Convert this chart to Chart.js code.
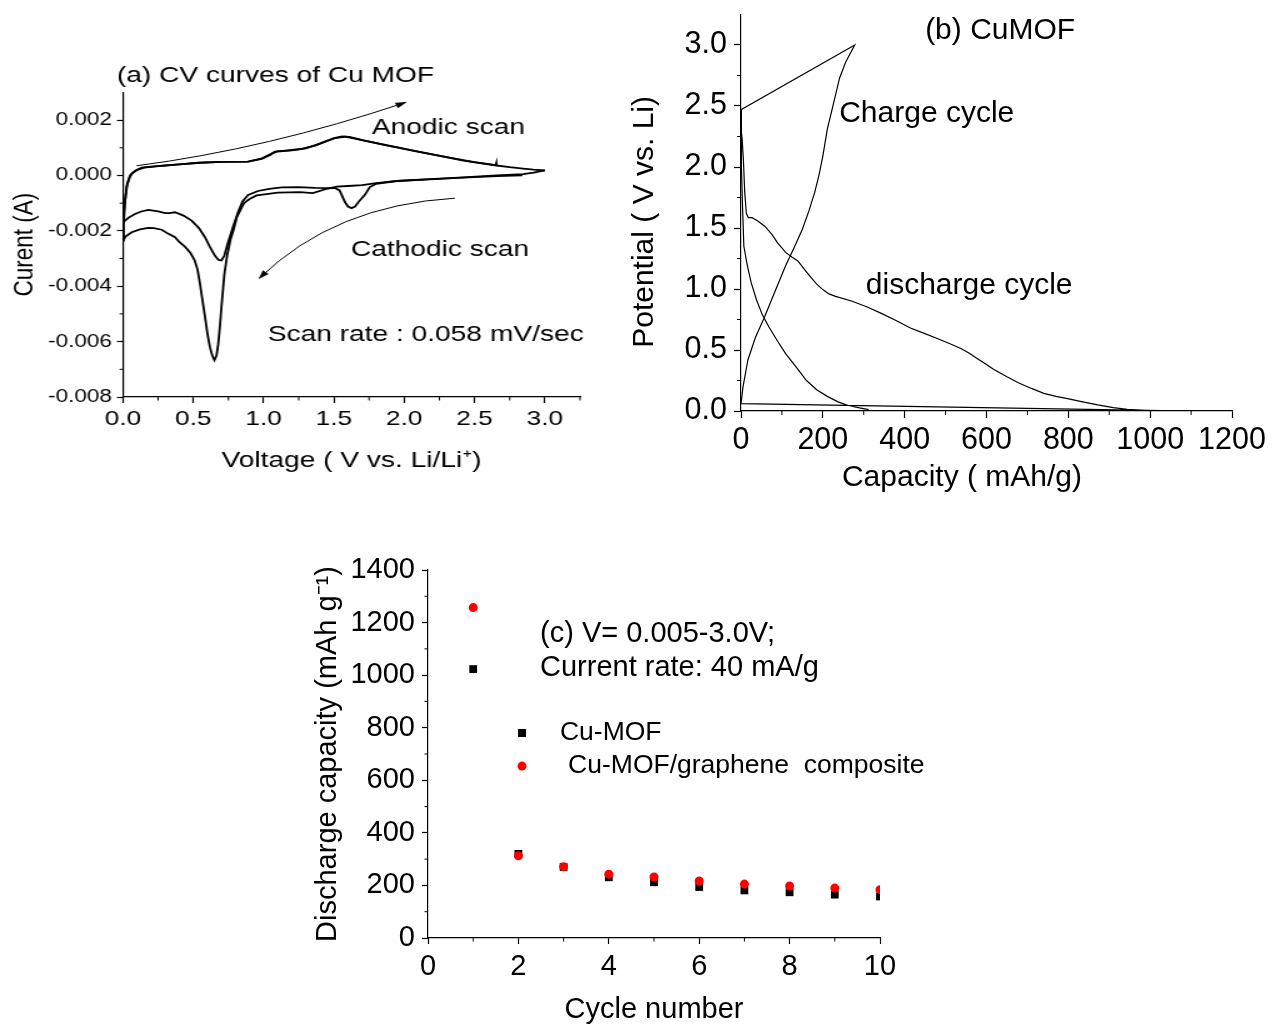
<!DOCTYPE html>
<html>
<head>
<meta charset="utf-8">
<title>Cu MOF electrochemistry</title>
<script src="https://cdn.jsdelivr.net/npm/chart.js@4.4.1/dist/chart.umd.min.js"></script>
<style>
html, body { margin: 0; padding: 0; background: #fff; }
body { width: 1272px; height: 1026px; position: relative; overflow: hidden; }
canvas { position: absolute; }
#cv { left: 0; top: 0; transform: scaleX(1.25); transform-origin: 0 0; }
#gcd { left: 620px; top: 0; }
#cyc { left: 280px; top: 540px; }
</style>
</head>
<body>
<canvas id="cv" width="480" height="500"></canvas>
<canvas id="gcd" width="652" height="520"></canvas>
<canvas id="cyc" width="700" height="486"></canvas>
<script>
// ---- (a) cyclic voltammetry, V vs Li/Li+ and current in A ----
const scan1V = [2.84, 2.66, 2.42, 2.18, 1.95, 1.80, 1.755, 1.72, 1.684, 1.65, 1.625, 1.60, 1.578, 1.555, 1.54, 1.507,
  1.45, 1.365, 1.25, 1.128, 1.04, 0.96, 0.89, 0.85, 0.82, 0.78, 0.748, 0.72, 0.70, 0.68, 0.654, 0.62, 0.583, 0.54,
  0.488, 0.43, 0.37, 0.33, 0.30, 0.25, 0.18, 0.13, 0.085, 0.04, 0.0,
  0.01, 0.026, 0.045, 0.062, 0.09, 0.133, 0.2, 0.30, 0.42, 0.535, 0.7, 0.89, 0.986, 1.05, 1.08, 1.12, 1.2, 1.27,
  1.365, 1.45, 1.507, 1.56, 1.61, 1.71, 1.82, 1.945, 2.06, 2.18, 2.30, 2.42, 2.54, 2.656, 2.75, 2.845, 2.92, 3.0];
const scan1I = [0.0, -0.00002, -0.00008, -0.00014, -0.0002, -0.0003, -0.00042, -0.0007, -0.0009, -0.00112, -0.00118,
  -0.00112, -0.00096, -0.0007, -0.00054, -0.00045,
  -0.00046, -0.00045, -0.00042, -0.00043, -0.00048, -0.00056, -0.0007, -0.00094, -0.0013, -0.0019, -0.0024, -0.0029,
  -0.00307, -0.00305, -0.0029, -0.0026, -0.00223, -0.0019,
  -0.00163, -0.00145, -0.00133, -0.00136, -0.00136, -0.0013, -0.00124, -0.0013, -0.00139, -0.00152, -0.00169,
  -0.0011, -0.0004, -0.0001, 0.00006, 0.00018, 0.00028, 0.00032, 0.00036, 0.00041, 0.00046, 0.00049, 0.0005, 0.0006,
  0.00075, 0.00086, 0.00087, 0.00092, 0.00096,
  0.00108, 0.00125, 0.00136, 0.00141, 0.00139, 0.00127, 0.00115, 0.00102, 0.0009, 0.00078, 0.00066, 0.00054, 0.00045,
  0.00036, 0.0003, 0.00025, 0.00021, 0.00018];

const scan2V = [3.0, 2.92, 2.845, 2.656, 2.42, 2.18, 1.945, 1.80, 1.70, 1.60, 1.52, 1.45, 1.35, 1.26, 1.1, 1.02,
  0.95, 0.90, 0.86, 0.83, 0.81, 0.784, 0.765, 0.74, 0.72, 0.70, 0.69, 0.677, 0.665, 0.65, 0.635, 0.618, 0.60, 0.583,
  0.565, 0.547, 0.53, 0.51, 0.48, 0.44, 0.40, 0.37, 0.32, 0.275, 0.22, 0.18, 0.12, 0.062, 0.02, 0.0,
  0.005, 0.015, 0.03, 0.05, 0.07, 0.1, 0.15, 0.25, 0.4, 0.55, 0.7, 0.89, 0.99, 1.06, 1.10, 1.2, 1.3, 1.4, 1.5, 1.58,
  1.7, 1.9, 2.1, 2.3, 2.5, 2.65, 2.655, 2.656];
const scan2I = [0.00018, 0.0001, 0.00005, 0.0, -0.00007, -0.00013, -0.0002, -0.00028, -0.00035, -0.00038, -0.0004,
  -0.00048, -0.00064, -0.0006, -0.00062, -0.00067,
  -0.00072, -0.00085, -0.001, -0.0013, -0.0015, -0.002, -0.0023, -0.0029, -0.0036, -0.00476, -0.0054, -0.0061,
  -0.0065, -0.00667, -0.0065, -0.0062, -0.0057, -0.0051,
  -0.0045, -0.0039, -0.0034, -0.00307, -0.0028, -0.00257, -0.0024, -0.00223, -0.0021, -0.00196, -0.0019, -0.00189,
  -0.00195, -0.00205, -0.0022, -0.00235,
  -0.0017, -0.0009, -0.0003, 0.0, 0.0001, 0.0002, 0.00028, 0.00034, 0.0004, 0.00046, 0.00049, 0.0005, 0.00062, 0.0008,
  0.00088, 0.00091, 0.00098, 0.00115, 0.00134, 0.0014,
  0.00128, 0.00106, 0.00086, 0.00066, 0.00048, 0.00037, 0.00045, 0.00036];

const cvVoltTicks = [0, 0.5, 1.0, 1.5, 2.0, 2.5, 3.0];
const cvVoltLabels = ['0.0', '0.5', '1.0', '1.5', '2.0', '2.5', '3.0'];
const cvVoltMinor = [0.25, 0.75, 1.25, 1.75, 2.25, 2.75, 3.25];
const cvCurrTicks = [-0.008, -0.006, -0.004, -0.002, 0, 0.002];
const cvCurrLabels = ['-0.008', '-0.006', '-0.004', '-0.002', '0.000', '0.002'];
const cvCurrMinor = [-0.007, -0.005, -0.003, -0.001, 0.001];

// ---- (b) galvanostatic discharge / charge trace, capacity in mAh/g, potential in V ----
const gcdCapacity = [0, 3, 6, 9, 13, 18, 27, 40, 58, 75, 89, 109, 125, 139, 155, 170, 185, 200, 215, 231, 272, 310,
  343, 380, 414, 445, 475, 505, 536, 557, 577, 598, 618, 650, 679, 710, 740, 770, 801, 835, 872, 910, 944, 990, 1030,
  0, 5, 17, 35, 58, 83, 109, 130, 150, 166, 180, 191, 200, 211, 226, 241, 256, 267, 278,
  0, 0, 2, 4, 7, 15, 25, 38, 52, 68, 88, 109, 135, 160, 185, 211, 237, 262, 290, 312];
const gcdPotential = [2.32, 2.22, 2.05, 1.8, 1.62, 1.585, 1.585, 1.56, 1.515, 1.45, 1.38, 1.30, 1.26, 1.23, 1.16,
  1.10, 1.04, 0.995, 0.96, 0.94, 0.90, 0.85,
  0.80, 0.74, 0.68, 0.64, 0.60, 0.56, 0.515, 0.475, 0.43, 0.385, 0.34, 0.28, 0.23, 0.185, 0.145, 0.12, 0.10, 0.075,
  0.05, 0.028, 0.014, 0.006, 0.003,
  0.06, 0.2, 0.42, 0.6, 0.775, 0.98, 1.19, 1.34, 1.49, 1.64, 1.79, 1.94, 2.09, 2.31, 2.52, 2.73, 2.86, 2.93, 3.0,
  2.47, 2.3, 2.0, 1.65, 1.35, 1.2, 1.05, 0.91, 0.79, 0.69, 0.58, 0.47, 0.36, 0.25, 0.175, 0.12, 0.075, 0.045, 0.025,
  0.012];

const gcdCapTicks = [0, 200, 400, 600, 800, 1000, 1200];
const gcdCapMinor = [100, 300, 500, 700, 900, 1100];
const gcdPotTicks = [0, 0.5, 1.0, 1.5, 2.0, 2.5, 3.0];
const gcdPotLabels = ['0.0', '0.5', '1.0', '1.5', '2.0', '2.5', '3.0'];
const gcdPotMinor = [0.25, 0.75, 1.25, 1.75, 2.25, 2.75];

// ---- (c) discharge capacity per cycle, mAh/g ----
const cycles = [1, 2, 3, 4, 5, 6, 7, 8, 9, 10];
const cuMof = [1023, 320, 270, 231, 212, 194, 181, 174, 165, 158];
const cuMofGraphene = [1257, 313, 271, 243, 232, 217, 205, 198, 190, 184];

const cycTicks = [0, 2, 4, 6, 8, 10];
const cycMinor = [1, 3, 5, 7, 9];
const capTicks = [0, 200, 400, 600, 800, 1000, 1200, 1400];
const capMinor = [100, 300, 500, 700, 900, 1100, 1300];

const FONT = '"Liberation Sans", Arial, sans-serif';
Chart.defaults.font.family = FONT;
Chart.defaults.color = '#000';

function pts(xs, ys) {
  return xs.map((x, i) => ({x: x, y: ys[i]}));
}

// linear axis with outward ticks, fixed box size so the plot area lands where we want it
function axis(o) {
  return {
    type: 'linear',
    min: o.min,
    max: o.max,
    border: {display: true, color: '#000', width: 1.2},
    grid: {display: true, drawOnChartArea: false, drawTicks: true, tickLength: o.tick, tickColor: '#000', tickWidth: 1.2},
    ticks: {
      autoSkip: false, maxRotation: 0, includeBounds: false,
      padding: o.pad, font: {size: o.font},
      callback: (v, i) => o.labels ? o.labels[i] : String(v)
    },
    title: o.title || {display: false},
    afterBuildTicks: s => { s.ticks = o.values.map(v => ({value: v})); },
    afterFit: s => {
      if (s.isHorizontal()) s.height = o.size; else s.width = o.size;
      s.paddingLeft = s.paddingRight = s.paddingTop = s.paddingBottom = 0;
    }
  };
}

// half-length tick marks between the labelled ones
function minorTicks(xv, yv, xl, yl) {
  return {
    id: 'minorTicks',
    afterDraw(chart) {
      const {ctx, chartArea: a, scales: {x, y}} = chart;
      ctx.save();
      ctx.strokeStyle = '#000';
      ctx.lineWidth = 1;
      ctx.beginPath();
      xv.forEach(v => { const p = x.getPixelForValue(v); ctx.moveTo(p, a.bottom); ctx.lineTo(p, a.bottom + xl); });
      yv.forEach(v => { const p = y.getPixelForValue(v); ctx.moveTo(a.left, p); ctx.lineTo(a.left - yl, p); });
      ctx.stroke();
      ctx.restore();
    }
  };
}

// free text and legend marks placed in data coordinates
function notes(items) {
  return {
    id: 'notes',
    afterDatasetsDraw(chart) {
      const {ctx, scales: {x, y}} = chart;
      items.forEach(n => {
        const px = x.getPixelForValue(n.x), py = y.getPixelForValue(n.y);
        ctx.save();
        if (n.mark === 'rect') {
          ctx.fillStyle = n.color;
          ctx.fillRect(px - n.r, py - n.r, 2 * n.r, 2 * n.r);
        } else if (n.mark === 'circle') {
          ctx.fillStyle = n.color;
          ctx.beginPath();
          ctx.arc(px, py, n.r, 0, Math.PI * 2);
          ctx.fill();
        } else {
          ctx.translate(px, py);
          if (n.rotate) ctx.rotate(n.rotate);
          ctx.font = n.size + 'px ' + FONT;
          ctx.fillStyle = '#000';
          ctx.textAlign = n.align || 'left';
          ctx.textBaseline = 'middle';
          ctx.fillText(n.text, 0, 0);
        }
        ctx.restore();
      });
    }
  };
}

// curved scan-direction arrows: start, middle, end
function arrows(list) {
  return {
    id: 'arrows',
    afterDatasetsDraw(chart) {
      const {ctx, scales: {x, y}} = chart;
      list.forEach(a => {
        const p = a.map(q => [x.getPixelForValue(q[0]), y.getPixelForValue(q[1])]);
        const c = [2 * p[1][0] - (p[0][0] + p[2][0]) / 2, 2 * p[1][1] - (p[0][1] + p[2][1]) / 2];
        ctx.save();
        ctx.strokeStyle = '#000';
        ctx.fillStyle = '#000';
        ctx.lineWidth = 1;
        ctx.beginPath();
        ctx.moveTo(p[0][0], p[0][1]);
        ctx.quadraticCurveTo(c[0], c[1], p[2][0], p[2][1]);
        ctx.stroke();
        const ang = Math.atan2(p[2][1] - c[1], p[2][0] - c[0]);
        ctx.translate(p[2][0], p[2][1]);
        ctx.rotate(ang);
        ctx.beginPath();
        ctx.moveTo(1, 0);
        ctx.lineTo(-8, -3);
        ctx.lineTo(-8, 3);
        ctx.closePath();
        ctx.fill();
        ctx.restore();
      });
    }
  };
}

const base = {
  responsive: false,
  animation: false,
  events: [],
  plugins: {legend: {display: false}, tooltip: {enabled: false}}
};

// (a) CV curves
new Chart(document.getElementById('cv'), {
  type: 'scatter',
  data: {
    datasets: [
      {data: pts(scan1V, scan1I), showLine: true, pointRadius: 0, borderColor: '#000', borderWidth: 1.8, tension: 0},
      {data: pts(scan2V, scan2I), showLine: true, pointRadius: 0, borderColor: '#000', borderWidth: 1.8, tension: 0}
    ]
  },
  options: Object.assign({}, base, {
    layout: {autoPadding: false, padding: {left: 0, top: 92.4, right: 16, bottom: 0}},
    scales: {
      x: axis({min: 0, max: 3.25, values: cvVoltTicks, labels: cvVoltLabels, tick: 6, pad: 4, font: 21, size: 103,
        title: {display: true, text: 'Voltage ( V vs. Li/Li\u207A)', font: {size: 22.5, lineHeight: 1}, padding: {top: 0, bottom: 27.75}}}),
      y: axis({min: -0.008, max: 0.003, values: cvCurrTicks, labels: cvCurrLabels, tick: 4.8, pad: 4, font: 18, size: 98.4,
        title: {display: true, text: 'Curent (A)', font: {size: 22.5, lineHeight: 1}, padding: {top: 8.75, bottom: 0}}})
    }
  }),
  plugins: [
    minorTicks(cvVoltMinor, cvCurrMinor, 3.5, 2.8),
    arrows([
      [[0.096, 0.00035], [1.04, 0.00123], [2.01, 0.00264]],
      [[2.36, -0.00082], [1.585, -0.00167], [0.97, -0.00371]]
    ]),
    notes([
      {text: '(a) CV curves of Cu MOF', x: -0.043, y: 0.0036, size: 22.5},
      {text: 'Anodic scan', x: 1.77, y: 0.00172, size: 22.5},
      {text: 'Cathodic scan', x: 1.62, y: -0.00269, size: 22.5},
      {text: 'Scan rate : 0.058 mV/sec', x: 1.03, y: -0.00577, size: 22.5}
    ])
  ]
});

// (b) discharge / charge profile
new Chart(document.getElementById('gcd'), {
  type: 'scatter',
  data: {
    datasets: [
      {data: pts(gcdCapacity, gcdPotential), showLine: true, pointRadius: 0, borderColor: '#000', borderWidth: 1.2, tension: 0}
    ]
  },
  options: Object.assign({}, base, {
    layout: {autoPadding: false, padding: {left: 0, top: 14.5, right: 40, bottom: 0}},
    scales: {
      x: axis({min: 0, max: 1200, values: gcdCapTicks, tick: 7, pad: 4, font: 30.5, size: 109}),
      y: axis({min: 0, max: 3.25, values: gcdPotTicks, labels: gcdPotLabels, tick: 7, pad: 7, font: 30.5, size: 121})
    }
  }),
  plugins: [
    minorTicks(gcdCapMinor, gcdPotMinor, 4, 4),
    notes([
      {text: '(b) CuMOF', x: 450, y: 3.115, size: 30},
      {text: 'Charge cycle', x: 240, y: 2.44, size: 30},
      {text: 'discharge cycle', x: 305, y: 1.03, size: 30},
      {text: 'Potential ( V vs. Li)', x: -234.6, y: 1.55, size: 30, align: 'center', rotate: -Math.PI / 2},
      {text: 'Capacity ( mAh/g)', x: 540, y: -0.55, size: 30, align: 'center'}
    ])
  ]
});

// (c) cycling performance
new Chart(document.getElementById('cyc'), {
  type: 'scatter',
  data: {
    datasets: [
      {label: 'Cu-MOF', data: pts(cycles, cuMof), pointStyle: 'rect', pointRadius: 5.5,
        backgroundColor: '#000', borderColor: '#000', borderWidth: 0, order: 1},
      {label: 'Cu-MOF/graphene composite', data: pts(cycles, cuMofGraphene), pointStyle: 'circle', pointRadius: 4.5,
        backgroundColor: '#ff0000', borderColor: '#ff0000', borderWidth: 0, order: 0}
    ]
  },
  options: Object.assign({}, base, {
    layout: {autoPadding: false, padding: {left: 0, top: 30, right: 100, bottom: 0}},
    scales: {
      x: axis({min: 0, max: 10, values: cycTicks, tick: 6, pad: 5.6, font: 29, size: 88,
        title: {display: true, text: 'Cycle number', font: {size: 29, lineHeight: 1}, padding: {top: 0, bottom: 1.5}}}),
      y: axis({min: 0, max: 1400, values: capTicks, tick: 6, pad: 7, font: 29, size: 148,
        title: {display: true, text: 'Discharge capacity (mAh g\u207B\u00B9)', font: {size: 29, lineHeight: 1}, padding: {top: 33.5, bottom: 0}}})
    }
  }),
  plugins: [
    minorTicks(cycMinor, capMinor, 3.5, 3.5),
    notes([
      {text: '(c) V= 0.005-3.0V;', x: 2.478, y: 1156, size: 29},
      {text: 'Current rate: 40 mA/g', x: 2.478, y: 1027, size: 29},
      {mark: 'rect', x: 2.08, y: 780, r: 4, color: '#000'},
      {text: 'Cu-MOF', x: 2.92, y: 780, size: 26.5},
      {mark: 'circle', x: 2.08, y: 654, r: 4.5, color: '#ff0000'},
      {text: 'Cu-MOF/graphene  composite', x: 3.10, y: 654, size: 26.5}
    ])
  ]
});
</script>
</body>
</html>
